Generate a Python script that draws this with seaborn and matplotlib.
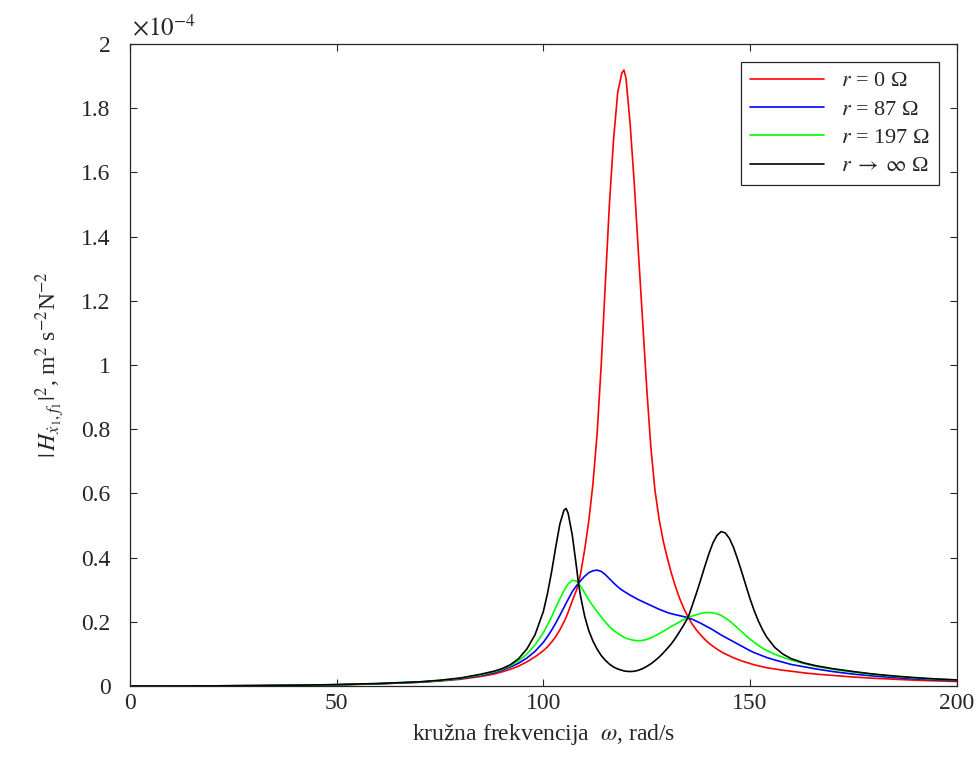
import pandas as pd
import seaborn as sns
import matplotlib.pyplot as plt
from matplotlib.ticker import FuncFormatter, MultipleLocator

# angular frequency, rad/s
omega = [0, 10, 20, 30, 40, 50, 60, 70, 75, 80,
         85, 88, 90, 92, 94, 96, 98, 100, 101, 102,
         103, 104, 105, 105.5, 106, 107, 108, 108.5, 109, 110,
         111, 112, 113, 114, 115, 116, 117, 118, 119, 119.5,
         120, 121, 122, 123, 124, 125, 126, 127, 128, 129,
         130, 131, 132, 133, 134, 135, 136, 137, 138, 139,
         140, 141, 142, 143, 144, 145, 146, 147, 148, 149,
         150, 151, 152, 153, 154, 156, 158, 160, 163, 166,
         170, 175, 180, 185, 190, 195, 200]

# |H|^2 values, in units of 1e-4
h_r0 = [0, 0.00002, 0.0004, 0.001, 0.002, 0.0037, 0.0065, 0.0115, 0.0155, 0.021,
        0.030, 0.037, 0.044, 0.052, 0.062, 0.075, 0.091, 0.110, 0.122, 0.137,
        0.154, 0.175, 0.200, 0.214, 0.230, 0.265, 0.298, 0.320, 0.350, 0.425,
        0.515, 0.630, 0.785, 1.000, 1.255, 1.505, 1.705, 1.850, 1.910, 1.919,
        1.893, 1.750, 1.565, 1.350, 1.140, 0.930, 0.745, 0.610, 0.520, 0.452,
        0.398, 0.350, 0.308, 0.272, 0.241, 0.215, 0.193, 0.175, 0.160, 0.146,
        0.134, 0.124, 0.115, 0.107, 0.100, 0.094, 0.088, 0.083, 0.078, 0.074,
        0.070, 0.066, 0.063, 0.060, 0.057, 0.053, 0.049, 0.046, 0.041, 0.037,
        0.033, 0.028, 0.024, 0.021, 0.018, 0.016, 0.014]

h_r87 = [0, 0.00002, 0.0004, 0.0011, 0.0022, 0.004, 0.007, 0.012, 0.0165, 0.023,
         0.033, 0.041, 0.049, 0.059, 0.071, 0.087, 0.108, 0.136, 0.154, 0.174,
         0.196, 0.220, 0.245, 0.258, 0.270, 0.294, 0.312, 0.320, 0.328, 0.342,
         0.353, 0.359, 0.361, 0.357, 0.347, 0.334, 0.321, 0.309, 0.299, 0.295,
         0.291, 0.283, 0.276, 0.269, 0.263, 0.257, 0.251, 0.245, 0.239, 0.234,
         0.229, 0.225, 0.222, 0.219, 0.216, 0.213, 0.208, 0.202, 0.196, 0.189,
         0.182, 0.175, 0.167, 0.159, 0.152, 0.145, 0.138, 0.131, 0.124, 0.117,
         0.110, 0.104, 0.099, 0.094, 0.089, 0.081, 0.074, 0.067, 0.060, 0.053,
         0.045, 0.037, 0.031, 0.026, 0.022, 0.019, 0.017]

h_r197 = [0, 0.00002, 0.0004, 0.0011, 0.0023, 0.0042, 0.0074, 0.0125, 0.017, 0.024,
          0.035, 0.044, 0.052, 0.063, 0.078, 0.099, 0.128, 0.166, 0.190, 0.216,
          0.244, 0.272, 0.297, 0.308, 0.318, 0.329, 0.327, 0.320, 0.311, 0.290,
          0.268, 0.249, 0.232, 0.215, 0.199, 0.185, 0.173, 0.164, 0.156, 0.152,
          0.149, 0.145, 0.142, 0.141, 0.142, 0.145, 0.150, 0.156, 0.163, 0.170,
          0.178, 0.186, 0.193, 0.200, 0.207, 0.213, 0.218, 0.222, 0.226, 0.228,
          0.229, 0.228, 0.225, 0.220, 0.212, 0.203, 0.192, 0.181, 0.169, 0.157,
          0.146, 0.136, 0.127, 0.118, 0.111, 0.099, 0.089, 0.081, 0.070, 0.061,
          0.052, 0.043, 0.036, 0.030, 0.025, 0.021, 0.019]

h_rinf = [0, 0.00002, 0.0005, 0.0012, 0.0024, 0.0044, 0.0078, 0.013, 0.018, 0.025,
          0.037, 0.046, 0.054, 0.066, 0.085, 0.115, 0.160, 0.232, 0.288, 0.356,
          0.433, 0.505, 0.548, 0.553, 0.538, 0.470, 0.372, 0.320, 0.280, 0.217,
          0.172, 0.140, 0.115, 0.095, 0.080, 0.068, 0.059, 0.053, 0.049, 0.047,
          0.046, 0.045, 0.046, 0.049, 0.054, 0.061, 0.069, 0.079, 0.090, 0.103,
          0.117, 0.132, 0.150, 0.170, 0.191, 0.213, 0.250, 0.288, 0.328, 0.370,
          0.410, 0.445, 0.469, 0.481, 0.477, 0.460, 0.432, 0.395, 0.355, 0.313,
          0.272, 0.235, 0.203, 0.176, 0.153, 0.120, 0.099, 0.085, 0.072, 0.063,
          0.054, 0.045, 0.037, 0.031, 0.026, 0.022, 0.019]

labels = [r'$r$ = 0 Ω', r'$r$ = 87 Ω', r'$r$ = 197 Ω',
          r'$r\;\rightarrow\;\infty$ Ω']
colors = ['#ff0000', '#0000ff', '#00ff00', '#000000']

df = pd.DataFrame({
    'omega': omega * 4,
    'H': h_r0 + h_r87 + h_r197 + h_rinf,
    'r': [lab for lab in labels for _ in omega],
})

sns.set_style('ticks')
plt.rcParams['font.family'] = ['Liberation Serif', 'DejaVu Serif']
plt.rcParams['mathtext.fontset'] = 'stix'
frame = '#262626'

fig = plt.figure(figsize=(9.8, 7.66), dpi=100)
ax = fig.add_axes([130 / 980, 80 / 766, 826.7 / 980, 642 / 766])

sns.lineplot(data=df, x='omega', y='H', hue='r', hue_order=labels,
             palette=dict(zip(labels, colors)), sort=False, estimator=None,
             linewidth=1.2, ax=ax)

ax.set_xlim(0, 200)
ax.set_ylim(0, 2)
ax.xaxis.set_major_locator(MultipleLocator(50))
ax.yaxis.set_major_locator(MultipleLocator(0.2))
ax.yaxis.set_major_formatter(FuncFormatter(lambda v, p: '%g' % round(v, 1)))
ax.tick_params(direction='in', length=5, width=0.8, color=frame,
               top=True, right=True, labelsize=17)
ax.tick_params(axis='x', pad=5)
ax.tick_params(axis='y', pad=14)
for s in ax.spines.values():
    s.set_color(frame)
    s.set_linewidth(0.9)

ax.set_xlabel(r'kružna frekvencija  $\omega$, rad/s', fontsize=17, labelpad=6)
ax.set_ylabel(r'$|\,H_{\dot{x}_1,f_1}|^2$, m$^2$ s$^{-2}$N$^{-2}$',
              fontsize=17, labelpad=10)
ax.text(0.003, 1.014, r'$\times 10^{-4}$', transform=ax.transAxes,
        fontsize=18, ha='left', va='baseline')

handles, _ = ax.get_legend_handles_labels()
leg = ax.legend(handles, labels, loc='upper right',
                bbox_to_anchor=(0.9786, 0.972), borderaxespad=0, fontsize=16,
                frameon=True, fancybox=False, framealpha=1,
                edgecolor=frame, handlelength=3.3, labelspacing=0.35,
                borderpad=0.4)
leg.get_frame().set_linewidth(0.9)

fig.savefig('out.png', dpi=100)
